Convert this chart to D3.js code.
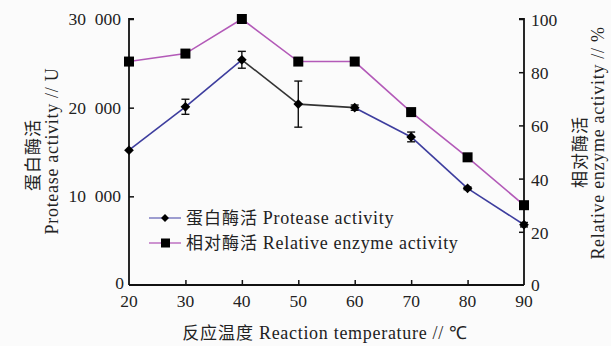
<!DOCTYPE html>
<html>
<head>
<meta charset="utf-8">
<script src="https://cdn.jsdelivr.net/npm/d3@7"></script>
<style>
  html, body { margin: 0; padding: 0; background: #fbfbfb; }
  svg { display: block; }
  text { font-family: "Liberation Serif", "Times New Roman", serif; fill: #222; }
  .lbl { letter-spacing: 0.7px; }
  .cjk { font-family: "Noto Sans CJK SC", sans-serif; letter-spacing: 1px; }
</style>
</head>
<body>
<script>
// Reaction temperature (°C)
const temperatures = [20, 30, 40, 50, 60, 70, 80, 90];
// Protease activity (U) with standard deviation
const proteaseActivity = [15200, 20100, 25400, 20400, 20000, 16700, 10900, 6800];
const proteaseError = [0, 850, 950, 2600, 300, 550, 150, 250];
// Relative enzyme activity (%)
const relativeActivity = [84, 87, 100, 84, 84, 65, 48, 30];

const leftTicks = [0, 10000, 20000, 30000];
const rightTicks = [0, 20, 40, 60, 80, 100];
const xTicks = [20, 30, 40, 50, 60, 70, 80, 90];

const W = 611, H = 346;
const m = { left: 129, right: 611 - 524, top: 19, bottom: 346 - 285 };

const svg = d3.select("body").append("svg").attr("width", W).attr("height", H);

const x = d3.scaleLinear().domain([20, 90]).range([m.left, W - m.right]);
const yL = d3.scaleLinear().domain([0, 30000]).range([H - m.bottom, m.top]);
const yR = d3.scaleLinear().domain([0, 100]).range([H - m.bottom, m.top]);

const fmtK = d => d === 0 ? "0" : d3.format(",")(d).replace(",", "\u2002");

// Axes (ticks drawn inward)
const gx = svg.append("g").attr("transform", `translate(0,${yL(0)})`)
  .call(d3.axisTop(x).tickValues(xTicks).tickSize(5).tickFormat(""));
const gl = svg.append("g").attr("transform", `translate(${m.left},0)`)
  .call(d3.axisRight(yL).tickValues(leftTicks).tickSize(5).tickFormat(""));
const gr = svg.append("g").attr("transform", `translate(${W - m.right},0)`)
  .call(d3.axisLeft(yR).tickValues(rightTicks).tickSize(5).tickFormat(""));
[gx, gl, gr].forEach(g => {
  g.select(".domain").attr("stroke", "#111").attr("stroke-width", 1.8);
  g.selectAll(".tick line").attr("stroke", "#111").attr("stroke-width", 1.5);
});
gx.selectAll(".tick").filter(d => d === 20 || d === 90).remove();
gl.selectAll(".tick").filter(d => d === 0).remove();
gr.selectAll(".tick").filter(d => d === 0).remove();
gx.select(".domain").attr("d", `M${m.left},0H${W - m.right}`);
gl.select(".domain").attr("d", `M5,${m.top}H0V${yL(0)}`);
gr.select(".domain").attr("d", `M0,${yR(0)}V${m.top}H-5`);

// Tick labels
const fs = 17.5;
svg.append("g").selectAll("text").data(xTicks).join("text")
  .attr("x", d => x(d)).attr("y", yL(0) + 22)
  .attr("text-anchor", "middle").attr("font-size", fs).text(d => d);
svg.append("g").selectAll("text").data(leftTicks).join("text")
  .attr("x", d => d === 0 ? m.left - 5 : m.left - 8)
  .attr("y", d => d === 0 ? yL(d) + 4 : yL(d) + 6)
  .attr("text-anchor", "end").attr("font-size", fs).text(fmtK);
svg.append("g").selectAll("text").data(rightTicks).join("text")
  .attr("x", d => d === 0 ? W - m.right + 7 : W - m.right + 7)
  .attr("y", d => d === 0 ? yR(d) + 6 : yR(d) + 7)
  .attr("text-anchor", "start").attr("font-size", fs).text(d => d);

// Axis titles
svg.append("text").attr("class", "cjk")
  .attr("transform", `translate(39,155) rotate(-90)`)
  .attr("text-anchor", "middle").attr("font-size", 17).text("蛋白酶活");
svg.append("text").attr("class", "lbl")
  .attr("transform", `translate(58,151) rotate(-90)`)
  .attr("text-anchor", "middle").attr("font-size", 18).text("Protease activity // U");
svg.append("text").attr("class", "cjk")
  .attr("transform", `translate(586,152) rotate(-90)`)
  .attr("text-anchor", "middle").attr("font-size", 17).text("相对酶活");
svg.append("text").attr("class", "lbl")
  .attr("transform", `translate(604,143) rotate(-90)`)
  .attr("text-anchor", "middle").attr("font-size", 18).text("Relative enzyme activity // %");
const xt = svg.append("text").attr("class", "lbl").attr("x", 325).attr("y", 339)
  .attr("text-anchor", "middle").attr("font-size", 18);
xt.append("tspan").attr("class", "cjk").attr("font-size", 17).text("反应温度 ");
xt.append("tspan").text("Reaction temperature // ℃");

// Series data points
const prot = temperatures.map((t, i) => ({ t, v: proteaseActivity[i], e: proteaseError[i] }));
const rel = temperatures.map((t, i) => ({ t, v: relativeActivity[i] }));

// Relative enzyme activity line
svg.append("path").datum(rel)
  .attr("d", d3.line().x(d => x(d.t)).y(d => yR(d.v)))
  .attr("fill", "none").attr("stroke", "#b35ab8").attr("stroke-width", 1.6);

// Protease activity line, segment by segment (40–60 °C drawn dark)
const blue = "#3d3d9e", dark = "#333";
d3.pairs(prot).forEach(([a, b], i) => {
  svg.append("path").datum([a, b])
    .attr("d", d3.line().x(d => x(d.t)).y(d => yL(d.v)))
    .attr("fill", "none").attr("stroke", (i === 2 || i === 3) ? dark : blue)
    .attr("stroke-width", 1.6);
});

// Error bars
const eb = svg.append("g").attr("stroke", "#111").attr("stroke-width", 1.4);
prot.filter(d => d.e > 0).forEach(d => {
  const cx = x(d.t), y1 = yL(d.v + d.e), y2 = yL(d.v - d.e);
  eb.append("line").attr("x1", cx).attr("x2", cx).attr("y1", y1).attr("y2", y2);
  eb.append("line").attr("x1", cx - 4).attr("x2", cx + 4).attr("y1", y1).attr("y2", y1);
  eb.append("line").attr("x1", cx - 4).attr("x2", cx + 4).attr("y1", y2).attr("y2", y2);
});

// Markers
svg.append("g").selectAll("path").data(prot).join("path")
  .attr("transform", d => `translate(${x(d.t)},${yL(d.v)})`)
  .attr("d", d3.symbol(d3.symbolDiamond2, 60)).attr("fill", "#000");
svg.append("g").selectAll("rect").data(rel).join("rect")
  .attr("x", d => x(d.t) - 5).attr("y", d => yR(d.v) - 5)
  .attr("width", 10).attr("height", 10).attr("fill", "#000");

// Legend
const legend = [
  { zh: "蛋白酶活", en: "Protease activity", color: "#6a6ab8", shape: "diamond" },
  { zh: "相对酶活", en: "Relative enzyme activity", color: "#b35ab8", shape: "square" }
];
const lg = svg.append("g");
legend.forEach((d, i) => {
  const ly = 218 + i * 25;
  lg.append("line").attr("x1", 149).attr("x2", 181).attr("y1", ly).attr("y2", ly)
    .attr("stroke", d.color).attr("stroke-width", 1.3);
  if (d.shape === "diamond") {
    lg.append("path").attr("transform", `translate(165,${ly})`)
      .attr("d", d3.symbol(d3.symbolDiamond2, 40)).attr("fill", "#000");
  } else {
    lg.append("rect").attr("x", 161).attr("y", ly - 4.5).attr("width", 9).attr("height", 9).attr("fill", "#000");
  }
  const t = lg.append("text").attr("class", "lbl").attr("x", 186).attr("y", ly + 6).attr("font-size", 18);
  t.append("tspan").attr("class", "cjk").attr("font-size", 17).text(d.zh + " ");
  t.append("tspan").text(d.en);
});
</script>
</body>
</html>
